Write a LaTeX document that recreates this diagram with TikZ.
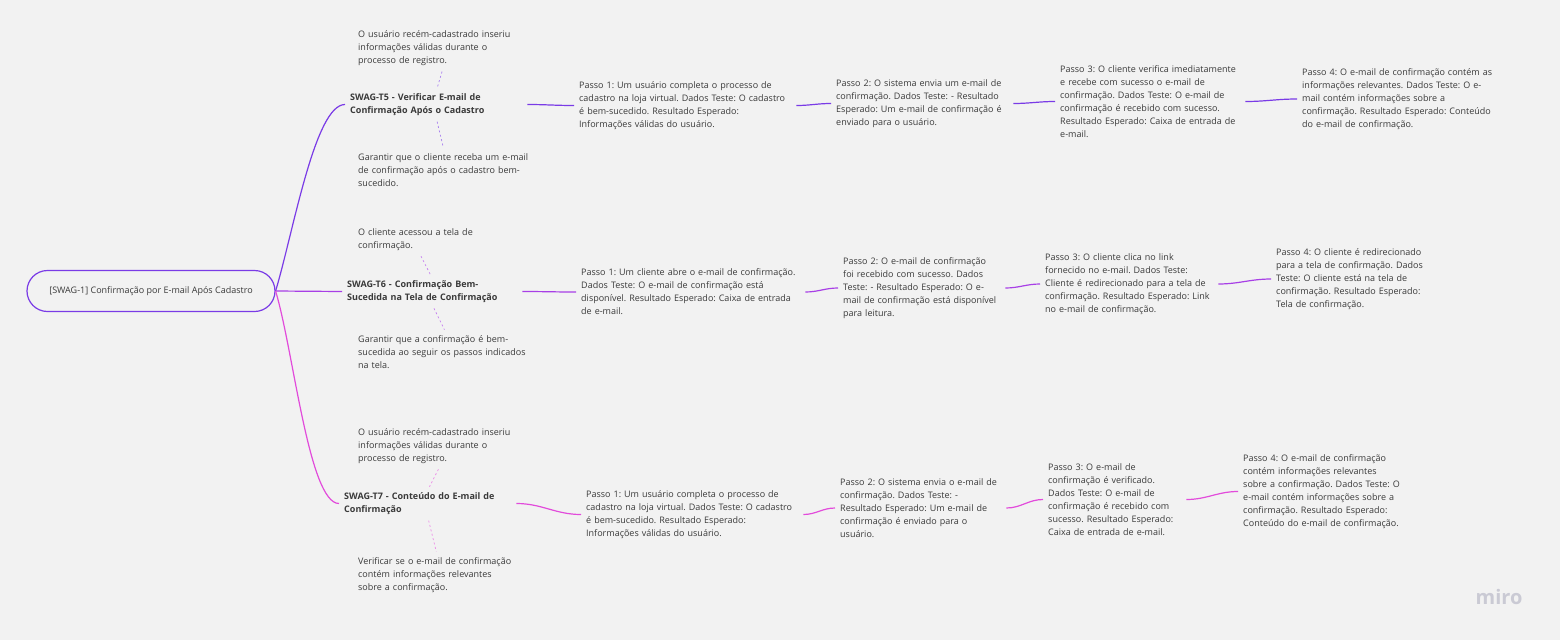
\documentclass[tikz,border=0pt]{standalone}
\usepackage{fontspec}
\setmainfont{Open Sans}
\frenchspacing
\usetikzlibrary{calc, positioning}
\definecolor{mirobg}{HTML}{F2F2F2}
\definecolor{mirotext}{HTML}{3A3A3A}
\definecolor{mirologo}{HTML}{CACAD4}
\definecolor{branchA}{HTML}{7A3BE6}
\definecolor{branchB}{HTML}{A83FE6}
\definecolor{branchC}{HTML}{E24BDB}

\begin{document}
\begin{tikzpicture}[x=1pt, y=-1pt,
        root/.style={draw=branchA, line width=1.2pt, rounded corners=20.5pt, minimum width=248pt, minimum height=41pt, font=\fontsize{9}{13}\selectfont, text=mirotext},
        title/.style={anchor=west, align=left, inner xsep=5pt, inner ysep=2pt, font=\fontsize{9}{13}\selectfont\bfseries, text=mirotext},
        note/.style={anchor=west, align=left, inner xsep=5pt, inner ysep=2pt, font=\fontsize{9}{13}\selectfont, text=mirotext},
        link/.style={line width=1.2pt},
        hint/.style={dash pattern=on 2pt off 2.5pt, line width=0.7pt, shorten <=4pt, shorten >=4pt}]

    % canvas
    \fill[mirobg] (0,0) rectangle (1560,640);

    \node[root] (R) at (151,291) {[SWAG-1] Confirmação por E-mail Após Cadastro};

    % SWAG-T5
    \begin{scope}
        \node[title, text width=172pt] (T5) at (345,104.5) {SWAG-T5 - Verificar E-mail de\\Confirmação Após o Cadastro};
        \node[note, text width=170pt] (P5) at (353,48) {O usuário recém-cadastrado inseriu\\informações válidas durante o\\processo de registro.};
        \node[note, text width=172pt] (G5) at (353,170) {Garantir que o cliente receba um e-mail\\de confirmação após o cadastro bem-\\sucedido.};
        \node[note, text width=212pt] (S51) at (574,105.5) {Passo 1: Um usuário completa o processo de\\cadastro na loja virtual. Dados Teste: O cadastro\\é bem-sucedido. Resultado Esperado:\\Informações válidas do usuário.};
        \node[note, text width=172pt] (S52) at (831,103.5) {Passo 2: O sistema envia um e-mail de\\confirmação. Dados Teste: - Resultado\\Esperado: Um e-mail de confirmação é\\enviado para o usuário.};
        \node[note, text width=180pt] (S53) at (1055,101.5) {Passo 3: O cliente verifica imediatamente\\e recebe com sucesso o e-mail de\\confirmação. Dados Teste: O e-mail de\\confirmação é recebido com sucesso.\\Resultado Esperado: Caixa de entrada de\\e-mail.};
        \node[note, text width=200pt] (S54) at (1297,99) {Passo 4: O e-mail de confirmação contém as\\informações relevantes. Dados Teste: O e-\\mail contém informações sobre a\\confirmação. Resultado Esperado: Conteúdo\\do e-mail de confirmação.};

        \draw[link, branchA] (R.east) .. controls +(18,-60) and +(-30,0) .. (T5.west);
        \draw[hint, branchA!65] (P5.south) -- (T5.north);
        \draw[hint, branchA!65] (T5.south) -- (G5.north);
        \draw[link, branchA] (T5.east) to[out=0, in=180] (S51.west);
        \draw[link, branchA] (S51.east) to[out=0, in=180] (S52.west);
        \draw[link, branchA] (S52.east) to[out=0, in=180] (S53.west);
        \draw[link, branchA] (S53.east) to[out=0, in=180] (S54.west);
    \end{scope}

    % SWAG-T6
    \begin{scope}
        \node[title, text width=170pt] (T6) at (342,291.5) {SWAG-T6 - Confirmação Bem-\\Sucedida na Tela de Confirmação};
        \node[note, text width=122pt] (P6) at (353,239.5) {O cliente acessou a tela de\\confirmação.};
        \node[note, text width=176pt] (G6) at (353,352) {Garantir que a confirmação é bem-\\sucedida ao seguir os passos indicados\\na tela.};
        \node[note, text width=219pt] (S61) at (576,292) {Passo 1: Um cliente abre o e-mail de confirmação.\\Dados Teste: O e-mail de confirmação está\\disponível. Resultado Esperado: Caixa de entrada\\de e-mail.};
        \node[note, text width=157pt] (S62) at (838,288) {Passo 2: O e-mail de confirmação\\foi recebido com sucesso. Dados\\Teste: - Resultado Esperado: O e-\\mail de confirmação está disponível\\para leitura.};
        \node[note, text width=168pt] (S63) at (1040,284) {Passo 3: O cliente clica no link\\fornecido no e-mail. Dados Teste:\\Cliente é redirecionado para a tela de\\confirmação. Resultado Esperado: Link\\no e-mail de confirmação.};
        \node[note, text width=160pt] (S64) at (1271,279) {Passo 4: O cliente é redirecionado\\para a tela de confirmação. Dados\\Teste: O cliente está na tela de\\confirmação. Resultado Esperado:\\Tela de confirmação.};

        \draw[link, branchB] (R.east) -- (T6.west);
        \draw[hint, branchB!65] (P6.south) -- (T6.north);
        \draw[hint, branchB!65] (T6.south) -- (G6.north);
        \draw[link, branchB] (T6.east) to[out=0, in=180] (S61.west);
        \draw[link, branchB] (S61.east) to[out=0, in=180] (S62.west);
        \draw[link, branchB] (S62.east) to[out=0, in=180] (S63.west);
        \draw[link, branchB] (S63.east) to[out=0, in=180] (S64.west);
    \end{scope}

    % SWAG-T7
    \begin{scope}
        \node[title, text width=167pt] (T7) at (339,503.5) {SWAG-T7 - Conteúdo do E-mail de\\Confirmação};
        \node[note, text width=164pt] (P7) at (353,446) {O usuário recém-cadastrado inseriu\\informações válidas durante o\\processo de registro.};
        \node[note, text width=158pt] (G7) at (353,575) {Verificar se o e-mail de confirmação\\contém informações relevantes\\sobre a confirmação.};
        \node[note, text width=212pt] (S71) at (581,514.5) {Passo 1: Um usuário completa o processo de\\cadastro na loja virtual. Dados Teste: O cadastro\\é bem-sucedido. Resultado Esperado:\\Informações válidas do usuário.};
        \node[note, text width=161pt] (S72) at (835,508) {Passo 2: O sistema envia o e-mail de\\confirmação. Dados Teste: -\\Resultado Esperado: Um e-mail de\\confirmação é enviado para o\\usuário.};
        \node[note, text width=133pt] (S73) at (1043,499.5) {Passo 3: O e-mail de\\confirmação é verificado.\\Dados Teste: O e-mail de\\confirmação é recebido com\\sucesso. Resultado Esperado:\\Caixa de entrada de e-mail.};
        \node[note, text width=170pt] (S74) at (1238,491.5) {Passo 4: O e-mail de confirmação\\contém informações relevantes\\sobre a confirmação. Dados Teste: O\\e-mail contém informações sobre a\\confirmação. Resultado Esperado:\\Conteúdo do e-mail de confirmação.};

        \draw[link, branchC] (R.east) .. controls +(18,60) and +(-30,0) .. (T7.west);
        \draw[hint, branchC!65] (P7.south) -- (T7.north);
        \draw[hint, branchC!65] (T7.south) -- (G7.north);
        \draw[link, branchC] (T7.east) to[out=0, in=180] (S71.west);
        \draw[link, branchC] (S71.east) to[out=0, in=180] (S72.west);
        \draw[link, branchC] (S72.east) to[out=0, in=180] (S73.west);
        \draw[link, branchC] (S73.east) to[out=0, in=180] (S74.west);
    \end{scope}

    \node[font=\fontsize{20}{20}\selectfont\bfseries, text=mirologo] (logo) at (1499,597) {miro};
\end{tikzpicture}
\end{document}
